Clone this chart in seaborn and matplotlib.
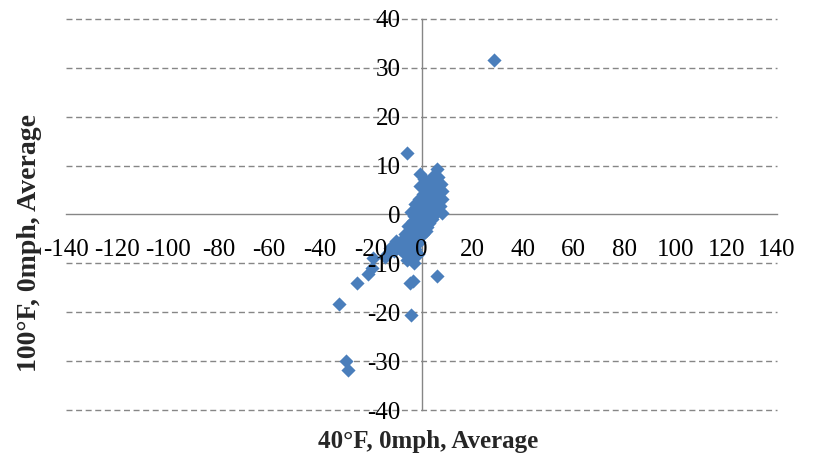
import matplotlib
matplotlib.use("Agg")
import matplotlib.pyplot as plt
import seaborn as sns
import pandas as pd

# Paired averages: 40°F/0mph (x) against 100°F/0mph (y)
x_vals = [
    28.5, -5.7, 6.1, -0.5, 6.1, -4.5, -3.5, -4.0, -32.5, -29.7, -29.0,
    -25.4, -21.0, -19.3, -19.0, -14.5, -5.7, -3.0, -1.4,
    1.0, 3.0, 5.0, 7.5, 8.2, 2.0, 4.0, 6.2, 8.0, 0.5, -1.0, 2.6, 5.0, 7.2,
    -2.6, 0.0, 3.2, 6.0, 8.0, -4.0, -1.6, 1.0, 4.2, -3.2, -0.6, 2.0, -5.2,
    -2.2, 0.6, -6.6, -4.0, -1.0, -8.0, -5.6, -2.6, -9.6, -7.2, -4.2,
    1.6, 3.6, -0.4, 6.4, 4.6, 7.0, 5.6, 3.0, 1.2, -0.6, 2.4, 5.4, -2.8,
    0.2, 3.0, -1.4, -4.2, -3.0, -0.2, 1.8, -6.0, -2.0, -5.0, -3.2, -8.6,
    -12.5, -11.0, -13.5, -10.0,
]
y_vals = [
    31.7, 12.5, 9.4, 8.3, -12.6, -14.1, -13.7, -20.5, -18.4, -29.9, -31.9,
    -14.1, -12.2, -11.0, -8.9, -8.6, -9.4, -10.0, -8.0,
    7.2, 6.8, 6.0, 6.2, 4.8, 5.4, 4.6, 4.0, 3.2, 4.2, 3.2, 3.0, 2.6, 1.8,
    2.2, 1.6, 1.0, 0.6, 0.4, 0.6, 0.0, -0.4, -1.0, -1.4, -2.0, -2.6, -2.4,
    -3.4, -4.0, -4.0, -5.0, -5.6, -5.4, -6.4, -7.0, -6.6, -7.6, -8.4,
    6.0, 5.6, 5.8, 7.6, 7.8, 5.0, 5.0, 3.8, 2.4, 1.0, 0.2, 1.6, -0.4,
    -1.2, -1.8, -2.8, -3.2, -4.4, -3.0, -3.4, -5.2, -6.0, -7.4, -8.0, -7.0,
    -6.8, -7.5, -8.0, -5.5,
]
x_ticks = list(range(-140, 141, 20))
y_ticks = list(range(-40, 41, 10))

sns.set_theme(style="white")
plt.rcParams["font.family"] = ["Liberation Serif", "DejaVu Serif"]
plt.rcParams["axes.unicode_minus"] = False

axis_gray = "#868686"
fig = plt.figure(figsize=(8.15, 4.61), dpi=100)
ax = fig.add_axes([66 / 815, 1 - 410 / 461, 711 / 815, 391 / 461])

df = pd.DataFrame({"x": x_vals, "y": y_vals})
sns.scatterplot(data=df, x="x", y="y", marker="D", s=52, color="#4a7ebb",
                linewidth=0, ax=ax, zorder=2, legend=False)

ax.set_xlim(-140, 140)
ax.set_ylim(-40, 40)
ax.set_xticks(x_ticks)
ax.set_yticks(y_ticks)
ax.grid(False)

# dashed horizontal gridlines behind the markers
for yv in y_ticks:
    if yv != 0:
        ax.axhline(yv, color=axis_gray, lw=1.0, ls=(0, (4.3, 2.6)), zorder=0.5,
                   clip_on=False)

for side in ["top", "right"]:
    ax.spines[side].set_visible(False)
for side in ["left", "bottom"]:
    ax.spines[side].set_position(("data", 0))
    ax.spines[side].set_color(axis_gray)
    ax.spines[side].set_linewidth(1.0)
    ax.spines[side].set_zorder(0.8)

ax.xaxis.set_zorder(3)
ax.yaxis.set_zorder(3)
ax.tick_params(axis="x", direction="out", length=6, width=1, color=axis_gray,
               pad=12, labelsize=18, labelcolor="black")
ax.tick_params(axis="y", direction="out", length=6, width=1, color=axis_gray,
               pad=9, labelsize=18, labelcolor="black")
ax.set_xlabel("")
ax.set_ylabel("")

fig.text(428 / 815, 1 - 441 / 461, "40°F, 0mph, Average", ha="center", va="center",
         fontsize=18, fontweight="bold")
fig.text(30 / 815, 1 - 243 / 461, "100°F, 0mph, Average", ha="center", va="center",
         rotation=90, fontsize=20, fontweight="bold")

fig.savefig("out.png", dpi=100)
